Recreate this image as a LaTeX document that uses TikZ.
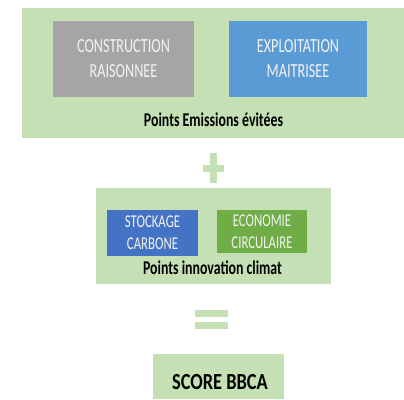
\documentclass[tikz,border=0pt]{standalone}
\usepackage{fontspec}
\setmainfont{Carlito}[FakeStretch=0.71]
\newfontfamily\scorefont{Carlito}[FakeStretch=0.80]
\definecolor{panel}{HTML}{C5E0B4}
\definecolor{greybox}{HTML}{A5A5A5}
\definecolor{skybox}{HTML}{5B9BD5}
\definecolor{navybox}{HTML}{4472C4}
\definecolor{leafbox}{HTML}{70AD47}
\definecolor{boxtext}{HTML}{F2F2F2}
\begin{document}
\begin{tikzpicture}[x=1pt,y=-1pt,
  panelbox/.style={fill=panel,draw=none,inner sep=0pt},
  itembox/.style={draw=none,inner sep=0pt,align=center,text=boxtext,
    font=\fontsize{20}{25}\selectfont},
  smallitem/.style={itembox,font=\fontsize{18}{22}\selectfont},
  caption/.style={inner sep=0pt,anchor=base,text=black,font=\bfseries\fontsize{19.5}{22}\selectfont},
  symbolbar/.style={fill=panel,draw=none}]
\useasboundingbox (0,0) rectangle (404,399);
\fill[white] (0,0) rectangle (404,399);

% avoided-emissions panel
\node[panelbox,minimum width=382,minimum height=130] (emis) at (213,73) {};
\node[itembox,fill=greybox,minimum width=141,minimum height=76] (constr) at (123.5,59) {CONSTRUCTION\\RAISONNEE};
\node[itembox,fill=skybox,minimum width=138,minimum height=76] (exploit) at (298,59) {EXPLOITATION\\MAITRISEE};
\node[caption] (emislbl) at (213.5,126.5) {Points Emissions évitées};

% plus sign
\coordinate (plus) at (213.5,168);
\fill[symbolbar] ([xshift=-10.5pt,yshift=-3.5pt]plus) rectangle ([xshift=10.5pt,yshift=3.5pt]plus);
\fill[symbolbar] ([xshift=-3.5pt,yshift=-15pt]plus) rectangle ([xshift=3.5pt,yshift=15pt]plus);

% climate-innovation panel
\node[panelbox,minimum width=235,minimum height=96] (innov) at (213.5,236) {};
\node[smallitem,fill=navybox,minimum width=91,minimum height=46] (stock) at (152.5,233) {STOCKAGE\\CARBONE};
\node[smallitem,fill=leafbox,minimum width=90,minimum height=43] (eco) at (262,231.5) {ECONOMIE\\CIRCULAIRE};
\node[caption] (innovlbl) at (212.5,274) {Points innovation climat};

% equals sign
\coordinate (equal) at (211.5,319.5);
\fill[symbolbar] ([xshift=-16.5pt,yshift=-9.5pt]equal) rectangle ([xshift=16.5pt,yshift=-2.5pt]equal);
\fill[symbolbar] ([xshift=-16.5pt,yshift=2.5pt]equal) rectangle ([xshift=16.5pt,yshift=9.5pt]equal);

% final score
\node[panelbox,minimum width=131,minimum height=45] (score) at (218.5,376.5) {};
\node[inner sep=0pt,anchor=base,text=black,
  font=\scorefont\bfseries\fontsize{23}{26}\selectfont] (scorelbl) at (220,389) {SCORE BBCA};
\end{tikzpicture}
\end{document}
